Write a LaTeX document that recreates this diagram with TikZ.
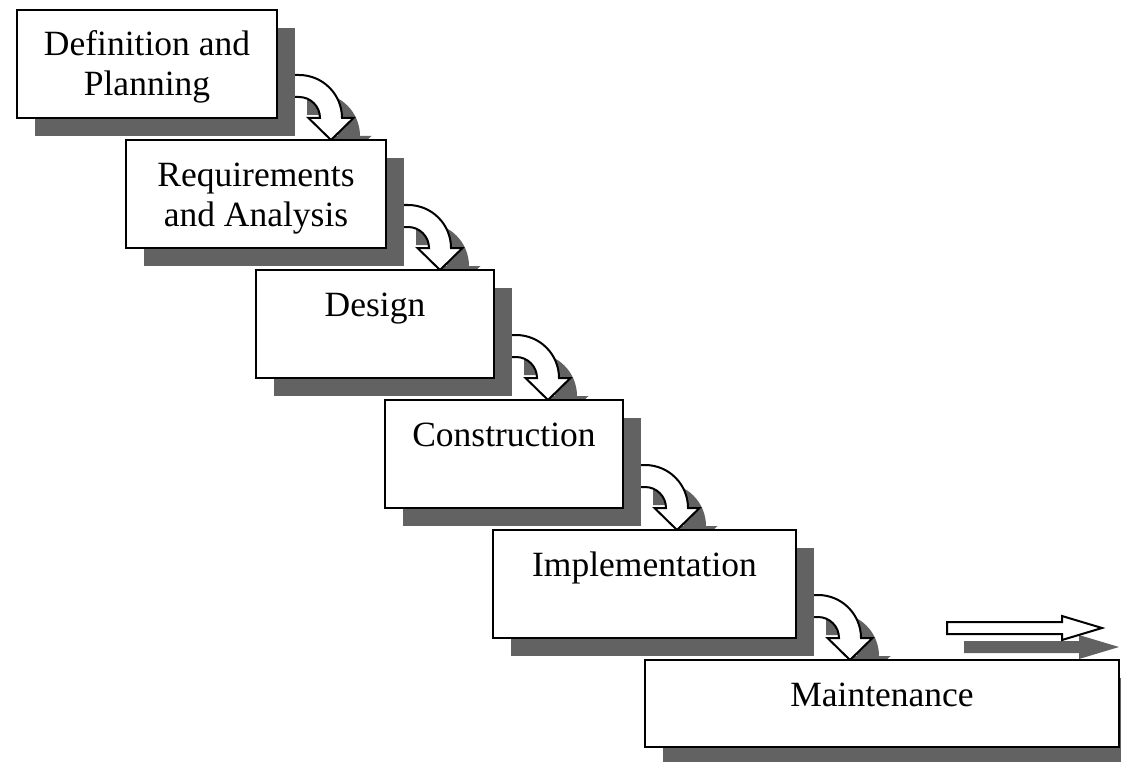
\documentclass[tikz,border=0pt]{standalone}
\usepackage{fontspec}
\setmainfont{Liberation Serif}
\usetikzlibrary{positioning,shadows,backgrounds}
\definecolor{shadowgray}{RGB}{98,98,98}

\begin{document}
\begin{tikzpicture}[x=1pt,y=1pt,
  stage/.style={draw,line width=2.5pt,fill=white,inner sep=0pt,outer sep=0pt,
    drop shadow={shadow xshift=18pt,shadow yshift=-18pt,fill=shadowgray,opacity=1}},
  lbl/.style={anchor=base,align=center,font=\fontsize{35.5}{40}\selectfont},
  bent/.style={draw,line width=2pt,fill=white},
  bentshadow/.style={fill=shadowgray}]
\useasboundingbox (0,0) rectangle (1121,-762);
\clip (0,0) rectangle (1121,-762);
%stages (two line labels sit on the baseline of their last line)
\node[stage,minimum width=260,minimum height=108] (def) at (147,-64) {};
\node[lbl] (deft) at (147,-96) {Definition and\\Planning};
\node[stage,minimum width=260,minimum height=108] (req) at (256,-194) {};
\node[lbl] (reqt) at (256,-226) {Requirements\\and Analysis};
\node[stage,minimum width=238,minimum height=108] (des) at (375,-324) {};
\node[lbl] (dest) at (375,-316) {Design};
\node[stage,minimum width=238,minimum height=108] (con) at (504,-454) {};
\node[lbl] (cont) at (504,-446) {Construction};
\node[stage,minimum width=303,minimum height=108] (imp) at (644.5,-584) {};
\node[lbl] (impt) at (644.5,-576) {Implementation};
\node[stage,minimum width=474,minimum height=87] (mai) at (882,-703.5) {};
\node[lbl] (mait) at (882,-706) {Maintenance};
\begin{pgfonlayer}{background}
%shadows of the bent arrows
\fill[bentshadow] ([xshift=30pt,yshift=25pt]def.south east) -- ++(10,0) arc[start angle=90,end angle=0,radius=43] -- ++(11.5,0) -- ++(-22.5,-22) -- ++(-22.5,22) -- ++(11.5,0) arc[start angle=0,end angle=90,radius=21] -- ++(-10,0) -- cycle;
\fill[bentshadow] ([xshift=30pt,yshift=25pt]req.south east) -- ++(10,0) arc[start angle=90,end angle=0,radius=43] -- ++(11.5,0) -- ++(-22.5,-22) -- ++(-22.5,22) -- ++(11.5,0) arc[start angle=0,end angle=90,radius=21] -- ++(-10,0) -- cycle;
\fill[bentshadow] ([xshift=30pt,yshift=25pt]des.south east) -- ++(10,0) arc[start angle=90,end angle=0,radius=43] -- ++(11.5,0) -- ++(-22.5,-22) -- ++(-22.5,22) -- ++(11.5,0) arc[start angle=0,end angle=90,radius=21] -- ++(-10,0) -- cycle;
\fill[bentshadow] ([xshift=30pt,yshift=25pt]con.south east) -- ++(10,0) arc[start angle=90,end angle=0,radius=43] -- ++(11.5,0) -- ++(-22.5,-22) -- ++(-22.5,22) -- ++(11.5,0) arc[start angle=0,end angle=90,radius=21] -- ++(-10,0) -- cycle;
\fill[bentshadow] ([xshift=30pt,yshift=25pt]imp.south east) -- ++(10,0) arc[start angle=90,end angle=0,radius=43] -- ++(11.5,0) -- ++(-22.5,-22) -- ++(-22.5,22) -- ++(11.5,0) arc[start angle=0,end angle=90,radius=21] -- ++(-10,0) -- cycle;
%bent arrows between stages
\draw[bent] ([xshift=12pt,yshift=43pt]def.south east) -- ++(10,0) arc[start angle=90,end angle=0,radius=43] -- ++(11.5,0) -- ++(-22.5,-22) -- ++(-22.5,22) -- ++(11.5,0) arc[start angle=0,end angle=90,radius=21] -- ++(-10,0) -- cycle;
\draw[bent] ([xshift=12pt,yshift=43pt]req.south east) -- ++(10,0) arc[start angle=90,end angle=0,radius=43] -- ++(11.5,0) -- ++(-22.5,-22) -- ++(-22.5,22) -- ++(11.5,0) arc[start angle=0,end angle=90,radius=21] -- ++(-10,0) -- cycle;
\draw[bent] ([xshift=12pt,yshift=43pt]des.south east) -- ++(10,0) arc[start angle=90,end angle=0,radius=43] -- ++(11.5,0) -- ++(-22.5,-22) -- ++(-22.5,22) -- ++(11.5,0) arc[start angle=0,end angle=90,radius=21] -- ++(-10,0) -- cycle;
\draw[bent] ([xshift=12pt,yshift=43pt]con.south east) -- ++(10,0) arc[start angle=90,end angle=0,radius=43] -- ++(11.5,0) -- ++(-22.5,-22) -- ++(-22.5,22) -- ++(11.5,0) arc[start angle=0,end angle=90,radius=21] -- ++(-10,0) -- cycle;
\draw[bent] ([xshift=12pt,yshift=43pt]imp.south east) -- ++(10,0) arc[start angle=90,end angle=0,radius=43] -- ++(11.5,0) -- ++(-22.5,-22) -- ++(-22.5,22) -- ++(11.5,0) arc[start angle=0,end angle=90,radius=21] -- ++(-10,0) -- cycle;
\end{pgfonlayer}
%straight arrow after maintenance
\fill[bentshadow] ([xshift=-155pt,yshift=19pt]mai.north east) -- ++(115,0) -- ++(0,6) -- ++(40,-12) -- ++(-40,-12) -- ++(0,6) -- ++(-115,0) -- cycle;
\draw[bent] ([xshift=-172pt,yshift=38pt]mai.north east) -- ++(115,0) -- ++(0,6) -- ++(40,-12) -- ++(-40,-12) -- ++(0,6) -- ++(-115,0) -- cycle;
\end{tikzpicture}
\end{document}
